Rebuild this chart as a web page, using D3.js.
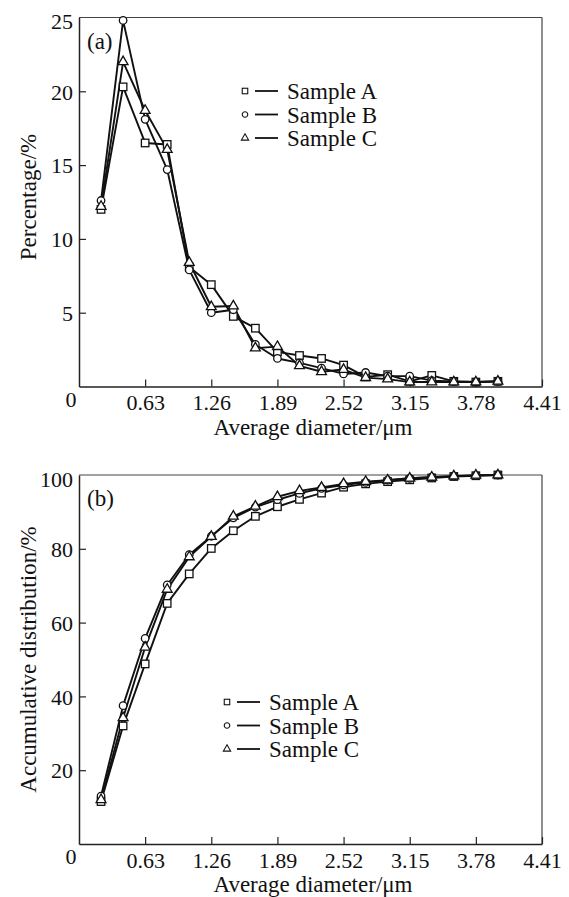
<!DOCTYPE html>
<html>
<head>
<meta charset="utf-8">
<script src="https://cdn.jsdelivr.net/npm/d3@7"></script>
<style>
  body { margin: 0; background: white; }
  svg text { font-family: "Liberation Serif", "DejaVu Serif", serif; fill: #111; }
</style>
</head>
<body>
<svg id="chart" width="569" height="897"></svg>
<script>
// diameters (um)
const diameters = [0.21, 0.42, 0.63, 0.84, 1.05, 1.26, 1.47, 1.68, 1.89, 2.10,
  2.31, 2.52, 2.73, 2.94, 3.15, 3.36, 3.57, 3.78, 3.99];
const sampleNames = ['Sample A', 'Sample B', 'Sample C'];
const xTicks = [0.63, 1.26, 1.89, 2.52, 3.15, 3.78, 4.41];

// (a) percentage
const pctA = [12.0, 20.3, 16.5, 16.4, 8.1, 6.9, 4.75, 3.95, 2.35, 2.1, 1.9, 1.45, 0.65, 0.8, 0.35, 0.75, 0.35, 0.3, 0.35];
const pctB = [12.6, 24.8, 18.1, 14.7, 7.9, 5.0, 5.2, 2.85, 1.9, 1.6, 1.25, 0.85, 0.95, 0.7, 0.7, 0.4, 0.35, 0.3, 0.35];
const pctC = [12.2, 22.0, 18.7, 16.05, 8.4, 5.4, 5.45, 2.6, 2.7, 1.4, 1.0, 1.15, 0.6, 0.5, 0.3, 0.3, 0.3, 0.3, 0.35];
const pctTicks = [5, 10, 15, 20, 25];

// (b) accumulative distribution
const cumA = [11.5, 32.0, 48.8, 65.2, 73.2, 80.1, 84.9, 88.8, 91.4, 93.4, 95.1, 96.7, 97.6, 98.2, 98.7, 99.2, 99.6, 99.8, 100];
const cumB = [13.0, 37.5, 55.7, 70.2, 78.4, 83.4, 88.4, 91.3, 93.3, 95.0, 96.4, 97.3, 98.0, 98.6, 99.1, 99.4, 99.7, 99.9, 100];
const cumC = [12.0, 34.2, 53.3, 69.0, 77.8, 83.3, 88.8, 91.5, 94.1, 95.7, 96.6, 97.6, 98.2, 98.6, 99.1, 99.4, 99.7, 99.9, 100];
const cumTicks = [20, 40, 60, 80, 100];

const svg = d3.select('#chart');
const FS = 23;
const TICK_FS = 22;
const FONT = '"Liberation Serif", "DejaVu Serif", serif';

function marker(g, i, size) {
  if (i === 0) {
    g.append('rect').attr('x', -size / 2).attr('y', -size / 2)
      .attr('width', size).attr('height', size);
  } else if (i === 1) {
    g.append('circle').attr('r', size / 2);
  } else {
    g.append('path').attr('d', d3.symbol(d3.symbolTriangle, size * size * 0.75)());
  }
}

function panel(opt) {
  const left = 79, right = 542, top = opt.top, bottom = opt.top + 369;
  const x = d3.scaleLinear().domain([0, 4.41]).range([left, right]);
  const y = d3.scaleLinear().domain([0, opt.yMax]).range([bottom, top]);
  const g = svg.append('g');

  // frame (top/right lighter)
  g.append('line').attr('x1', left).attr('x2', right).attr('y1', top).attr('y2', top)
    .attr('stroke', '#444').attr('stroke-width', 1.2);
  g.append('line').attr('x1', right).attr('x2', right).attr('y1', top).attr('y2', bottom)
    .attr('stroke', '#444').attr('stroke-width', 1.2);

  const xAxis = g.append('g').attr('transform', `translate(0,${bottom})`)
    .call(d3.axisBottom(x).tickValues(xTicks).tickSizeInner(-7).tickSizeOuter(0)
      .tickFormat(d3.format('.2f')));
  const yAxis = g.append('g').attr('transform', `translate(${left},0)`)
    .call(d3.axisLeft(y).tickValues(opt.yTicks).tickSizeInner(-7).tickSizeOuter(0));
  [xAxis, yAxis].forEach(a => {
    a.attr('font-family', FONT);
    a.select('.domain').attr('stroke', '#222').attr('stroke-width', 1.5);
    a.selectAll('.tick line').attr('stroke', '#222').attr('stroke-width', 1.2);
    a.selectAll('.tick text').attr('font-size', TICK_FS).attr('fill', '#111');
  });
  xAxis.selectAll('.tick text').attr('dy', 0).attr('y', 23.5);
  yAxis.selectAll('.tick text').attr('x', -6).attr('dy', '0.35em');
  // top tick label sits a little below the frame line
  yAxis.selectAll('.tick').filter(d => d === opt.yMax).select('text').attr('dy', '0.5em');
  yAxis.selectAll('.tick').filter(d => d === opt.yMax).select('line').remove();

  g.append('text').attr('x', left - 8).attr('y', bottom + 20)
    .attr('text-anchor', 'middle').attr('font-size', TICK_FS).text('0');

  g.append('text').attr('x', 313).attr('y', bottom + 48)
    .attr('text-anchor', 'middle').attr('font-size', FS).text('Average diameter/\u03bcm');
  g.append('text').attr('transform', `translate(36,${(top + bottom) / 2 + opt.titleShift}) rotate(-90)`)
    .attr('text-anchor', 'middle').attr('font-size', FS).text(opt.yTitle);

  g.append('text').attr('x', left + 8).attr('y', top + 31)
    .attr('font-size', FS).text(opt.tag);

  // series
  const line = d3.line().x((d, i) => x(diameters[i])).y(d => y(d));
  opt.series.forEach(s => {
    g.append('path').datum(s).attr('d', line)
      .attr('fill', 'none').attr('stroke', '#111').attr('stroke-width', 1.9)
      .attr('stroke-linejoin', 'round');
  });
  opt.series.forEach((s, si) => {
    s.forEach((v, i) => {
      const m = g.append('g').attr('transform', `translate(${x(diameters[i])},${y(v)})`)
        .attr('fill', 'white').attr('stroke', '#111').attr('stroke-width', 1.3);
      marker(m, si, 7.5);
    });
  });

  // legend
  const lg = g.append('g').attr('transform', `translate(${opt.legend[0]},${opt.legend[1]})`);
  sampleNames.forEach((name, i) => {
    const row = lg.append('g').attr('transform', `translate(0,${i * 23.5})`);
    const m = row.append('g').attr('fill', 'white').attr('stroke', '#111').attr('stroke-width', 1.1);
    marker(m, i, 5.5);
    row.append('line').attr('x1', 10).attr('x2', 33).attr('y1', 0).attr('y2', 0)
      .attr('stroke', '#111').attr('stroke-width', 1.8);
    row.append('text').attr('x', 42).attr('y', 8).attr('font-size', FS).text(name);
  });
}

panel({ top: 17.5, yMax: 25, yTicks: pctTicks, yTitle: 'Percentage/%', tag: '(a)', titleShift: -5,
  series: [pctA, pctB, pctC], legend: [245, 91] });
panel({ top: 475, yMax: 100, yTicks: cumTicks, yTitle: 'Accumulative distribution/%', tag: '(b)', titleShift: 0,
  series: [cumA, cumB, cumC], legend: [227, 702] });
</script>
</body>
</html>
